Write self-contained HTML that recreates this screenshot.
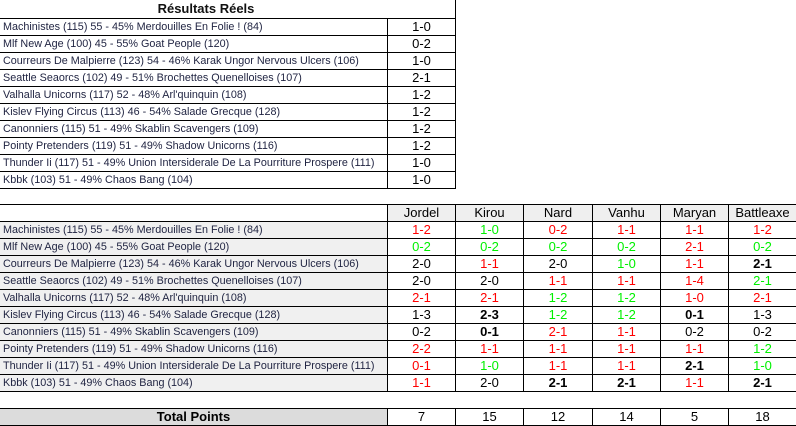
<!DOCTYPE html>
<html><head><meta charset="utf-8"><style>
body{margin:0;width:796px;height:426px;background:#fff;position:relative;overflow:hidden;font-family:"Liberation Sans",Arial,sans-serif;}
table{border-collapse:collapse;position:absolute;table-layout:fixed;}
td{padding:0;height:16px;border:1px solid #000;white-space:nowrap;overflow:hidden;line-height:16px;}
td.l{font-size:10.8px;color:#1e2240;padding-left:3px;}
td.s{text-align:center;font-size:13px;color:#000;}
.g2 td.l{background:#f0f0f0;}
.r{color:#f00!important}.gr{color:#00f000!important}.b{font-weight:bold}
.h td{background:#efefef;text-align:center;font-size:13px;}
</style></head><body>
<div style="position:absolute;left:0;top:0;width:412px;text-align:center;font-weight:bold;font-size:13px;line-height:17px;color:#111">Résultats Réels</div>
<div style="position:absolute;left:455px;top:0;width:1px;height:18px;background:#000"></div>
<table style="left:-1px;top:18px;width:457px">
<colgroup><col style="width:388px"><col style="width:68px"></colgroup>
<tr><td class="l">Machinistes (115) 55 - 45% Merdouilles En Folie ! (84)</td><td class="s">1-0</td></tr>
<tr><td class="l">Mlf New Age (100) 45 - 55% Goat People (120)</td><td class="s">0-2</td></tr>
<tr><td class="l">Courreurs De Malpierre (123) 54 - 46% Karak Ungor Nervous Ulcers (106)</td><td class="s">1-0</td></tr>
<tr><td class="l">Seattle Seaorcs (102) 49 - 51% Brochettes Quenelloises (107)</td><td class="s">2-1</td></tr>
<tr><td class="l">Valhalla Unicorns (117) 52 - 48% Arl'quinquin (108)</td><td class="s">1-2</td></tr>
<tr><td class="l">Kislev Flying Circus (113) 46 - 54% Salade Grecque (128)</td><td class="s">1-2</td></tr>
<tr><td class="l">Canonniers (115) 51 - 49% Skablin Scavengers (109)</td><td class="s">1-2</td></tr>
<tr><td class="l">Pointy Pretenders (119) 51 - 49% Shadow Unicorns (116)</td><td class="s">1-2</td></tr>
<tr><td class="l">Thunder Ii (117) 51 - 49% Union Intersiderale De La Pourriture Prospere (111)</td><td class="s">1-0</td></tr>
<tr><td class="l">Kbbk (103) 51 - 49% Chaos Bang (104)</td><td class="s">1-0</td></tr>
</table>
<table class="g2" style="left:-1px;top:204px;width:797px">
<colgroup><col style="width:388px"><col style="width:68px"><col style="width:68px"><col style="width:69px"><col style="width:68px"><col style="width:68px"><col style="width:68px"></colgroup>
<tr class="h"><td style="background:#fff;border-left:none"></td><td>Jordel</td><td>Kirou</td><td>Nard</td><td>Vanhu</td><td>Maryan</td><td>Battleaxe</td></tr>
<tr><td class="l">Machinistes (115) 55 - 45% Merdouilles En Folie ! (84)</td><td class="s r">1-2</td><td class="s gr">1-0</td><td class="s r">0-2</td><td class="s r">1-1</td><td class="s r">1-1</td><td class="s r">1-2</td></tr>
<tr><td class="l">Mlf New Age (100) 45 - 55% Goat People (120)</td><td class="s gr">0-2</td><td class="s gr">0-2</td><td class="s gr">0-2</td><td class="s gr">0-2</td><td class="s r">2-1</td><td class="s gr">0-2</td></tr>
<tr><td class="l">Courreurs De Malpierre (123) 54 - 46% Karak Ungor Nervous Ulcers (106)</td><td class="s">2-0</td><td class="s r">1-1</td><td class="s">2-0</td><td class="s gr">1-0</td><td class="s r">1-1</td><td class="s b">2-1</td></tr>
<tr><td class="l">Seattle Seaorcs (102) 49 - 51% Brochettes Quenelloises (107)</td><td class="s">2-0</td><td class="s">2-0</td><td class="s r">1-1</td><td class="s r">1-1</td><td class="s r">1-4</td><td class="s gr">2-1</td></tr>
<tr><td class="l">Valhalla Unicorns (117) 52 - 48% Arl'quinquin (108)</td><td class="s r">2-1</td><td class="s r">2-1</td><td class="s gr">1-2</td><td class="s gr">1-2</td><td class="s r">1-0</td><td class="s r">2-1</td></tr>
<tr><td class="l">Kislev Flying Circus (113) 46 - 54% Salade Grecque (128)</td><td class="s">1-3</td><td class="s b">2-3</td><td class="s gr">1-2</td><td class="s gr">1-2</td><td class="s b">0-1</td><td class="s">1-3</td></tr>
<tr><td class="l">Canonniers (115) 51 - 49% Skablin Scavengers (109)</td><td class="s">0-2</td><td class="s b">0-1</td><td class="s r">2-1</td><td class="s r">1-1</td><td class="s">0-2</td><td class="s">0-2</td></tr>
<tr><td class="l">Pointy Pretenders (119) 51 - 49% Shadow Unicorns (116)</td><td class="s r">2-2</td><td class="s r">1-1</td><td class="s r">1-1</td><td class="s r">1-1</td><td class="s r">1-1</td><td class="s gr">1-2</td></tr>
<tr><td class="l">Thunder Ii (117) 51 - 49% Union Intersiderale De La Pourriture Prospere (111)</td><td class="s r">0-1</td><td class="s gr">1-0</td><td class="s r">1-1</td><td class="s r">1-1</td><td class="s b">2-1</td><td class="s gr">1-0</td></tr>
<tr><td class="l">Kbbk (103) 51 - 49% Chaos Bang (104)</td><td class="s r">1-1</td><td class="s">2-0</td><td class="s b">2-1</td><td class="s b">2-1</td><td class="s r">1-1</td><td class="s b">2-1</td></tr>
</table>
<table style="left:-1px;top:408px;width:797px">
<colgroup><col style="width:388px"><col style="width:68px"><col style="width:68px"><col style="width:69px"><col style="width:68px"><col style="width:68px"><col style="width:68px"></colgroup>
<tr><td style="background:#dcdcdc;text-align:center;font-weight:bold;font-size:13px">Total Points</td><td class="s">7</td><td class="s">15</td><td class="s">12</td><td class="s">14</td><td class="s">5</td><td class="s">18</td></tr>
</table>
</body></html>
